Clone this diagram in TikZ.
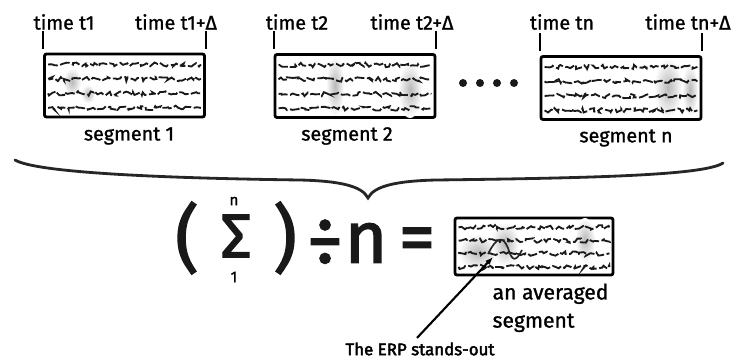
\documentclass[tikz,border=0pt]{standalone}
\usepackage{fontspec}
\setmainfont{Fira Sans}[FakeBold=1.2]
\usetikzlibrary{calc,arrows.meta,decorations.pathmorphing}

\begin{document}
\begin{tikzpicture}[x=0.025cm,y=-0.025cm,line width=0.9pt,>={Latex[length=2.4mm]},
  segbox/.style={draw,line width=2pt,rounded corners=1.5pt,fill=white,minimum width=4cm,minimum height=1.575cm,inner sep=0pt},
  wave/.style={line width=1.3pt,black!90,decorate,decoration={random steps,segment length=1.8pt,amplitude=1.6pt},dash pattern=on 7pt off 1.8pt},
  blot/.style={inner color=black!28,outer color=white},
  tick/.style={line width=1.4pt},
  lbl/.style={font=\fontsize{14}{16}\selectfont,text=black,inner sep=0pt},
  big/.style={font=\fontsize{52}{56}\selectfont\addfontfeatures{FakeBold=2},text=black!90,inner sep=0pt},
  dot/.style={circle,fill=black!90,minimum size=0.2cm,inner sep=0pt}]
  \useasboundingbox (0,0) rectangle (740,360);
  \pgfmathsetseed{11}
  % segmentos
  \node[segbox] (s1) at (124.5,85.5) {};
  \node[segbox] (s2) at (355,86) {};
  \node[segbox] (sn) at (621,88) {};
  \node[segbox,minimum width=3.95cm,minimum height=1.425cm] (av) at (534,246.5) {};
  % manchas grises
  \foreach \x/\y/\a/\b in {72/82/9/14,88/94/7/9,335/86/9/30,410/90/12/28,668/88/14/30,690/90/8/26,478/252/20/18,505/244/14/22,585/240/10/22}
    \shade[blot] (\x,\y) ellipse ({\a*0.025cm} and {\b*0.025cm});
  % trazos
  \foreach \b in {s1,s2,sn,av}
    \foreach \r in {0.18,0.4,0.62,0.84}
      \draw[wave] ($(\b.north west)!\r!(\b.south west)+(5,0)$) -- ($(\b.north east)!\r!(\b.south east)+(-5,0)$);
  \draw[line width=1.2pt,black!85] (488,254) .. controls (497,236) and (503,236) .. (508,248) .. controls (512,262) and (516,262) .. (522,250);
  % marcas de tiempo
  \foreach \b in {s1,s2,sn}{
    \draw[tick] ($(\b.north west)+(0,-4)$) -- ($(\b.north west)+(0,-22)$);
    \draw[tick] ($(\b.north east)+(0,-4)$) -- ($(\b.north east)+(0,-22)$);
  }
  \node[lbl] (t1) at (64,22) {time t1};
  \node[lbl] (t1d) at (176,22) {time t1+Δ};
  \node[lbl] (t2) at (297,22) {time t2};
  \node[lbl] (t2d) at (412,22) {time t2+Δ};
  \node[lbl] (tn) at (562,22) {time tn};
  \node[lbl] (tnd) at (688,22) {time tn+Δ};
  \node[lbl] (g1) at (129,136) {segment 1};
  \node[lbl] (g2) at (347,136) {segment 2};
  \node[lbl] (gn) at (626,138) {segment n};
  \foreach \x [count=\i] in {463,480,497,514}
    \node[dot] (d\i) at (\x,83) {};
  % llave
  \draw[line width=2pt,black!85,line cap=round] (15,160) .. controls (35,172) and (150,178) .. (300,180) .. controls (340,181) and (362,186) .. (368,198) .. controls (374,186) and (396,181) .. (436,180) .. controls (600,178) and (705,175) .. (723,163);
  % formula
  \node[big] (lp) at (187,238) {(};
  \node[big,font=\fontsize{44}{50}\selectfont\addfontfeatures{FakeBold=2}] (sig) at (236,236) {Σ};
  \node[lbl,font=\fontsize{11}{12}\selectfont] (up) at (234,201) {n};
  \node[lbl,font=\fontsize{11}{12}\selectfont] (lo) at (234,277) {1};
  \node[big] (rp) at (285,238) {)};
  \node[big] (dv) at (325,243) {÷};
  \node[big] (nn) at (366,243) {n};
  \node[big] (eq) at (417,245) {=};
  \node[lbl,font=\fontsize{15}{20}\selectfont,align=left,anchor=north west] (avl) at (492,283) {an averaged\\segment};
  % ERP
  \node[lbl,font=\fontsize{12}{13}\selectfont\addfontfeatures{FakeBold=2.5}] (erpl) at (420,349) {The ERP stands-out};
  \coordinate (erp) at (493,257);
  \draw[line width=1.5pt,-{Latex[length=2mm]}] ($(erpl.north)+(-3,-4)$) -- (erp);
\end{tikzpicture}
\end{document}
